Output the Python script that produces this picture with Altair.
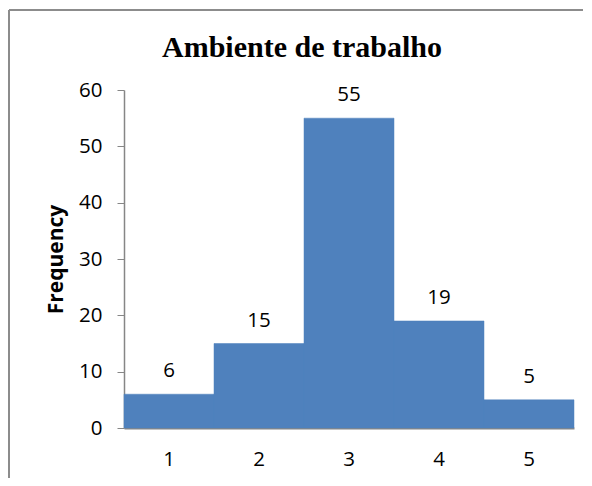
import altair as alt
import pandas as pd

categories = ["1", "2", "3", "4", "5"]
frequencies = [6, 15, 55, 19, 5]
y_ticks = [0, 10, 20, 30, 40, 50, 60]
chart_title = "Ambiente de trabalho"

df = pd.DataFrame({"cat": categories, "freq": frequencies})

LABEL_FONT = "Open Sans"
AXIS_GRAY = "#868686"

base = alt.Chart(df)

bars = base.mark_bar(color="#4F81BD", stroke="#4F81BD", strokeWidth=0.5).encode(
    x=alt.X(
        "cat:O",
        sort=categories,
        scale=alt.Scale(paddingInner=0, paddingOuter=0),
        axis=alt.Axis(
            title=None, labelAngle=0, ticks=False, domainColor=AXIS_GRAY,
            domainWidth=2, labelFont=LABEL_FONT, labelFontSize=20.5,
            labelColor="#000000", labelPadding=21,
        ),
    ),
    y=alt.Y(
        "freq:Q",
        scale=alt.Scale(domain=[0, 60]),
        axis=alt.Axis(
            title="Frequency", values=y_ticks, grid=False,
            domainColor=AXIS_GRAY, domainWidth=1.5, tickColor=AXIS_GRAY,
            tickSize=7, labelPadding=15, labelFont=LABEL_FONT,
            labelFontSize=20.5, labelColor="#000000",
            titleFont=LABEL_FONT, titleFontSize=21, titleFontWeight="bold",
            titleColor="#000000", titlePadding=12,
        ),
    ),
)

labels = base.mark_text(
    baseline="alphabetic", dy=-17, font=LABEL_FONT, fontSize=20.5, color="#000000"
).encode(
    x=alt.X("cat:O", sort=categories),
    y="freq:Q",
    text="freq:Q",
)

one_row = alt.Data(values=[{}])

border_top = alt.Chart(one_row).mark_rule(color="#8C8C8C", strokeWidth=2).encode(
    x=alt.value(-115), x2=alt.value(459), y=alt.value(-80)
)
border_left = alt.Chart(one_row).mark_rule(color="#8C8C8C", strokeWidth=2).encode(
    x=alt.value(-115), y=alt.value(-80), y2=alt.value(400)
)

title = alt.Chart(one_row).mark_text(
    font="Liberation Serif", fontSize=30, fontWeight="bold", color="#000000",
    align="center", baseline="alphabetic",
).encode(
    x=alt.value(178), y=alt.value(-33), text=alt.value(chart_title)
)

chart = alt.layer(border_top, border_left, bars, labels, title).properties(
    width=450,
    height=338,
    autosize=alt.AutoSizeParams(type="none"),
    padding={"left": 116, "top": 82, "right": 10, "bottom": 50},
).configure_view(stroke=None)

chart.save("out.html", embed_options={"renderer": "svg", "actions": False})
